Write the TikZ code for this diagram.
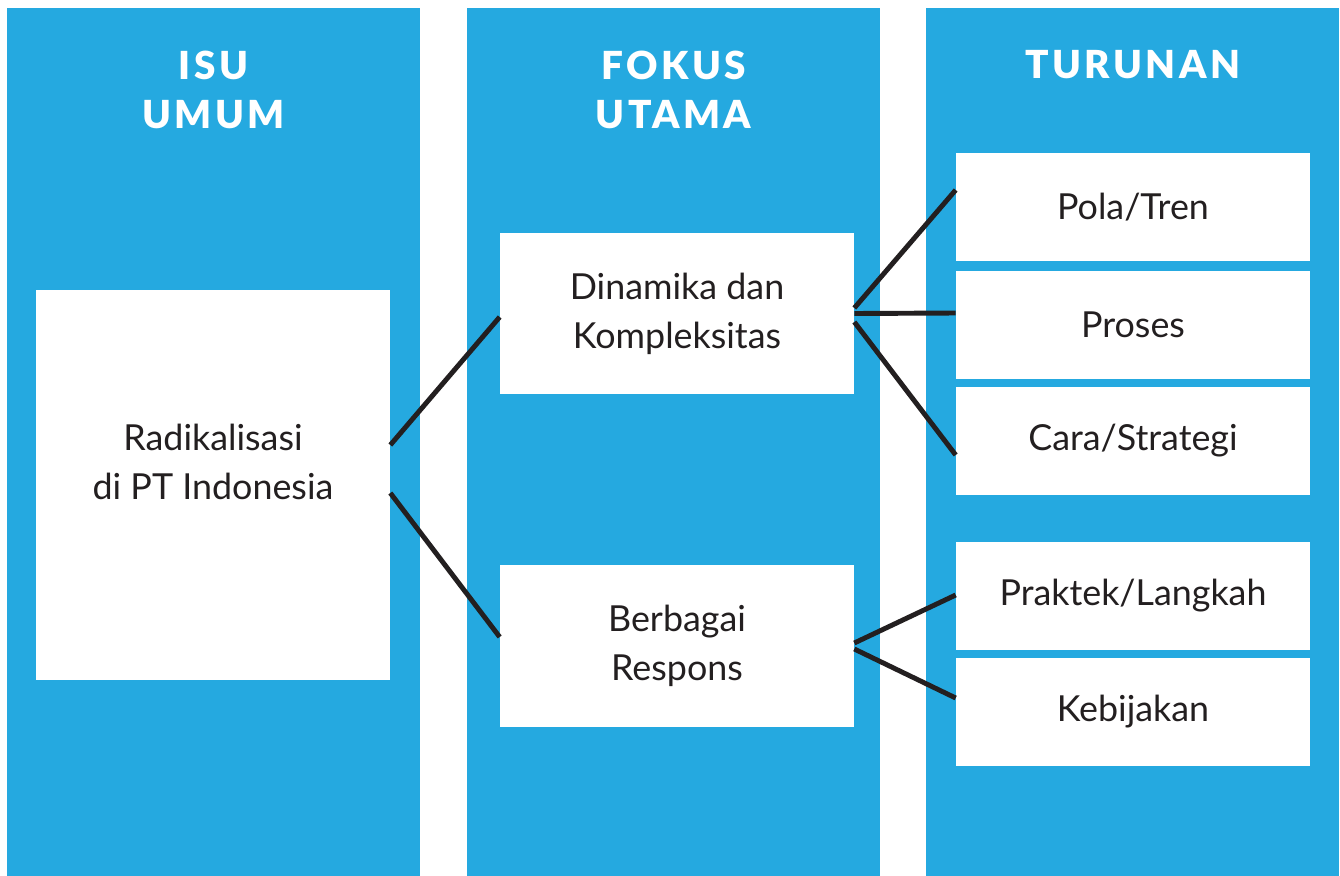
\documentclass[tikz,border=0pt]{standalone}
\usepackage{fontspec}
\setmainfont{Lato}
\newfontfamily\headfont[LetterSpace=9]{Lato Black}
\definecolor{colBand}{HTML}{25A9E0}
\definecolor{colInk}{HTML}{231F20}
\newcommand\bandWidth{413}
\newcommand\bandHeight{868}
\newcommand\boxWidth{7.08cm}
\tikzset{
	band/.style={fill=colBand, draw=none},
	head/.style={text=white, align=center, font=\headfont\fontsize{22}{27.8}\selectfont},
	itemtext/.style={align=center, text=colInk, font=\fontsize{20.4}{28}\selectfont},
	itembox/.style={itemtext, fill=white, draw=none, minimum width=\boxWidth},
	link/.style={draw=colInk, line width=2.8pt}
}
\begin{document}
\begin{tikzpicture}[x=0.02cm, y=-0.02cm]

	\useasboundingbox (0,0) rectangle (1340,876);

	% the three blue bands
	\foreach \x in {7,467,926}{
		\fill[band] (\x,8) rectangle ++(\bandWidth,\bandHeight);
	}

	\node[head] (hIsu) at (213.5,90) {ISU\\UMUM};
	\node[head] (hFokus) at (673.5,90) {FOKUS\\UTAMA};
	\node[head] (hTurunan) at (1133,65) {TURUNAN};

	\node[itembox, minimum height=7.8cm,
		label={[itemtext, yshift=0.46cm]center:Radikalisasi\\di PT Indonesia}] (rad) at (213,485) {};
	\node[itembox, minimum height=3.22cm] (din) at (677,313.5) {Dinamika dan\\Kompleksitas};
	\node[itembox, minimum height=3.24cm] (ber) at (677,646) {Berbagai\\Respons};

	\foreach \name/\y/\txt in {pola/207/{Pola/Tren}, proses/325/Proses, cara/441/{Cara/Strategi}, praktek/596/{Praktek/Langkah}, kebijakan/712/Kebijakan}{
		\node[itembox, minimum height=2.16cm] (\name) at (1133,\y) {\txt};
	}

	\draw[link] ([yshift=0.8cm]rad.east) -- ([yshift=-0.07cm]din.west);
	\draw[link] ([yshift=-0.16cm]rad.east) -- ([yshift=0.18cm]ber.west);

	\draw[link] ([yshift=0.11cm]din.east) -- ([yshift=0.34cm]pola.west);
	\draw[link] (din.east) -- ([yshift=0.24cm]proses.west);
	\draw[link] ([yshift=-0.17cm]din.east) -- ([yshift=-0.28cm]cara.west);

	\draw[link] ([yshift=0.06cm]ber.east) -- ([yshift=0.02cm]praktek.west);
	\draw[link] ([yshift=-0.06cm]ber.east) -- ([yshift=0.28cm]kebijakan.west);

\end{tikzpicture}
\end{document}
